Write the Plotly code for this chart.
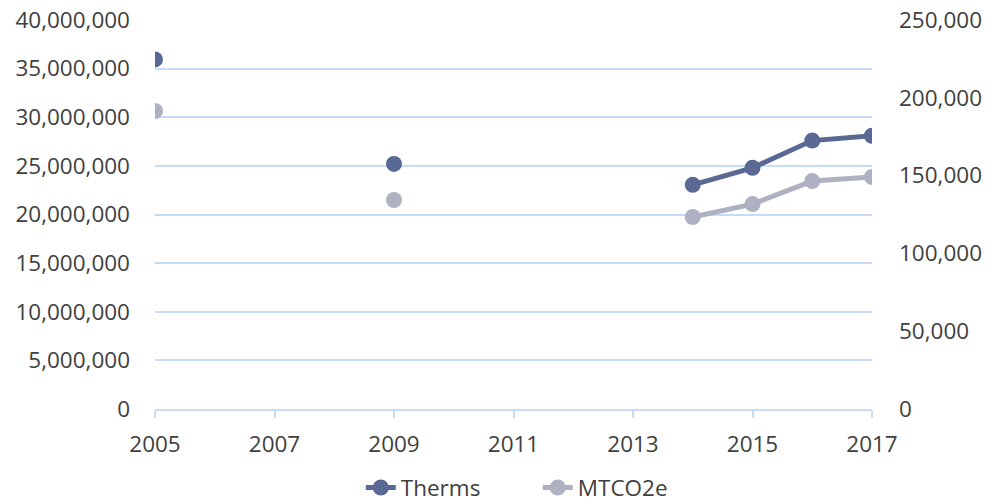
import plotly.graph_objects as go

# Annual natural gas use and associated emissions
years = list(range(2005, 2018))
therms = [35950000, None, None, None, 25200000, None, None, None, None,
          23050000, 24800000, 27600000, 28100000]
mtco2e = [191500, None, None, None, 134300, None, None, None, None,
          123400, 131700, 146500, 149100]

left_ticks = list(range(0, 40000001, 5000000))
right_ticks = list(range(0, 250001, 50000))
x_ticks = list(range(2005, 2018, 2))

THERMS_COLOR = "#5a6894"
MTCO2E_COLOR = "#adb1c2"
GRID_COLOR = "#c4dcf5"
TEXT_COLOR = "#404040"
FONT = "Open Sans"
FONT_SIZE = 22.5

fig = go.Figure()
fig.add_trace(go.Scatter(
    x=years, y=therms, name="Therms", mode="lines+markers",
    line=dict(color=THERMS_COLOR, width=5),
    marker=dict(size=16, color=THERMS_COLOR),
    connectgaps=False, yaxis="y",
))
fig.add_trace(go.Scatter(
    x=years, y=mtco2e, name="MTCO2e", mode="lines+markers",
    line=dict(color=MTCO2E_COLOR, width=5),
    marker=dict(size=16, color=MTCO2E_COLOR),
    connectgaps=False, yaxis="y2",
))

fig.update_layout(
    width=996, height=504,
    margin=dict(l=155, r=124, t=20, b=95),
    plot_bgcolor="white", paper_bgcolor="white",
    font=dict(family=FONT, size=FONT_SIZE, color=TEXT_COLOR),
    showlegend=True,
    legend=dict(orientation="h", x=0.287, xanchor="left",
                yref="container", y=0.032, yanchor="middle",
                entrywidth=132, entrywidthmode="pixels",
                font=dict(size=FONT_SIZE), tracegroupgap=0),
    xaxis=dict(
        range=[2005, 2017], tickmode="array", tickvals=x_ticks,
        ticktext=[str(v) for v in x_ticks],
        showgrid=False, zeroline=False, automargin=False,
        showline=True, linecolor=GRID_COLOR, linewidth=2,
        ticks="outside", ticklen=7, tickcolor=GRID_COLOR, tickwidth=2,
        ticklabelstandoff=7,
    ),
    yaxis=dict(
        range=[0, 40000000], tickmode="array", tickvals=left_ticks,
        ticktext=[f"{v:,}" for v in left_ticks],
        showgrid=True, gridcolor=GRID_COLOR, gridwidth=2,
        zeroline=False, showline=False, ticks="", automargin=False,
        ticklabelstandoff=24,
    ),
    yaxis2=dict(
        range=[0, 250000], tickmode="array", tickvals=right_ticks,
        ticktext=[f"{v:,}" for v in right_ticks],
        overlaying="y", side="right", automargin=False,
        showgrid=False, zeroline=False, showline=False, ticks="",
        ticklabelstandoff=26,
    ),
)

fig.write_html("out.html")
